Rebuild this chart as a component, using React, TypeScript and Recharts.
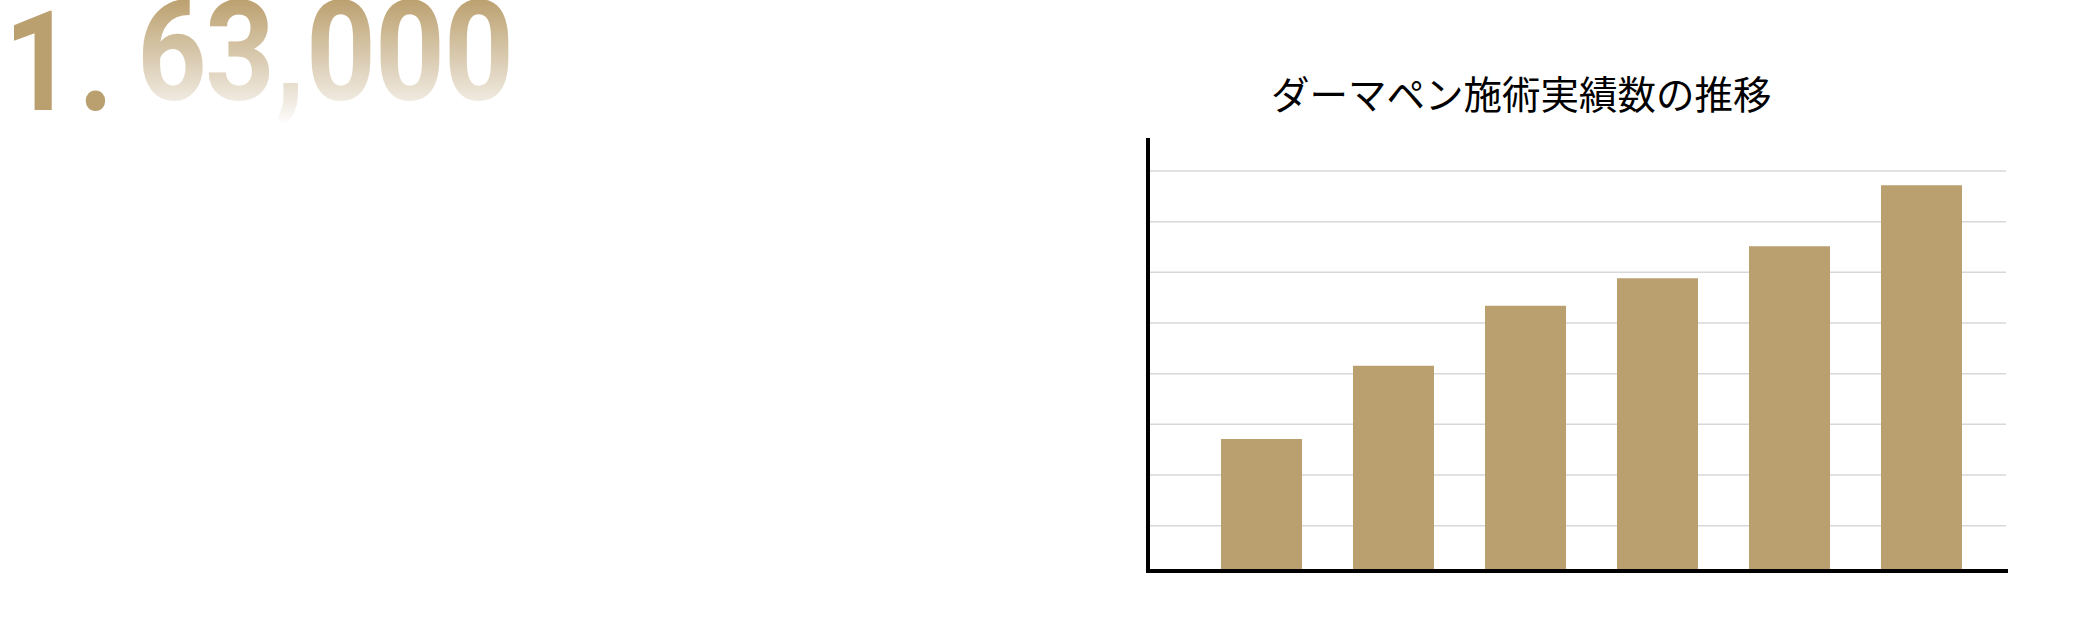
import { BarChart, Bar, XAxis, YAxis, CartesianGrid } from 'recharts'

// 施術実績数 (no axis labels in the reference)
const YEARS = ['2017', '2018', '2019', '2020', '2021', '2022']
const CASES = [1320, 2053, 2653, 2927, 3247, 3857]
const GRID_TICKS = [453, 960, 1467, 1973, 2480, 2987, 3493, 4000]
const Y_MAX = 4310

const TITLE = 'ダーマペン施術実績数の推移'
const COUNTER_SOLID = ['1', '.']
const COUNTER_FADED = ['6', '3', ',', '0', '0', '0']

const GOLD = '#ba9f6f'

const data = YEARS.map((year, i) => ({ year, cases: CASES[i] }))

// ticks stay on (the grid needs them) but draw nothing
const NoTick = () => <g />

function Counter() {
  // slot centres / baselines of the rolling counter
  const solidSlots = [
    { x: 39, y: 110 },
    { x: 96, y: 110 },
  ]
  const fadedSlots = [
    { x: 172, y: 100 },
    { x: 240, y: 100 },
    { x: 290, y: 100 },
    { x: 341, y: 100 },
    { x: 410, y: 100 },
    { x: 479, y: 100 },
  ]
  const textStyle = { fontFamily: 'Roboto, sans-serif', fontWeight: 700, fontSize: 140 }
  return (
    <svg width={540} height={130} style={{ position: 'absolute', left: 0, top: 0 }}>
      <defs>
        {/* in each glyph's local space: baseline at 0, top at -100 */}
        <linearGradient id="fade" x1="0" y1="-100" x2="0" y2="25" gradientUnits="userSpaceOnUse">
          <stop offset="0" stopColor="#bca170" />
          <stop offset="0.8" stopColor="#efe9df" />
          <stop offset="1" stopColor="#ffffff" />
        </linearGradient>
      </defs>
      {COUNTER_SOLID.map((c, i) => (
        <text key={'s' + i} transform={`translate(${solidSlots[i].x} ${solidSlots[i].y}) scale(0.87 1)`}
          textAnchor="middle" fill={GOLD} style={textStyle}>{c}</text>
      ))}
      {COUNTER_FADED.map((c, i) => (
        <text key={'f' + i} transform={`translate(${fadedSlots[i].x} ${fadedSlots[i].y}) scale(0.87 1)`}
          textAnchor="middle" fill="url(#fade)" style={textStyle}>{c}</text>
      ))}
    </svg>
  )
}

export default function App() {
  return (
    <div style={{ position: 'absolute', left: 0, top: 0, width: 2076, height: 638, background: '#fff', overflow: 'hidden' }}>
      <Counter />

      <div
        style={{
          position: 'absolute',
          left: 1271,
          top: 73,
          fontFamily: '"Noto Sans CJK JP", sans-serif',
          fontSize: 38.5,
          lineHeight: '38.5px',
          color: '#000',
          whiteSpace: 'nowrap',
        }}
      >
        {TITLE}
      </div>

      <div style={{ position: 'absolute', left: 1100, top: 120 }}>
        <BarChart width={940} height={480} data={data} margin={{ top: 20, right: 34, left: 47, bottom: 28 }}>
          <CartesianGrid
            vertical={false}
            horizontalValues={GRID_TICKS}
            syncWithTicks={false}
            stroke="#d8d8d8"
            strokeWidth={1.5}
          />
          <XAxis
            dataKey="year"
            tick={false}
            tickLine={false}
            height={1}
            padding={{ left: 47, right: 19 }}
            axisLine={{ stroke: '#000', strokeWidth: 4, strokeLinecap: 'square' }}
          />
          <YAxis
            type="number"
            domain={[0, Y_MAX]}
            ticks={GRID_TICKS}
            tickLine={false}
            tick={NoTick}
            width={1}
            axisLine={{ stroke: '#000', strokeWidth: 4, strokeLinecap: 'square' }}
          />
          <Bar dataKey="cases" fill={GOLD} barSize={81} isAnimationActive={false} />
        </BarChart>
      </div>
    </div>
  )
}
